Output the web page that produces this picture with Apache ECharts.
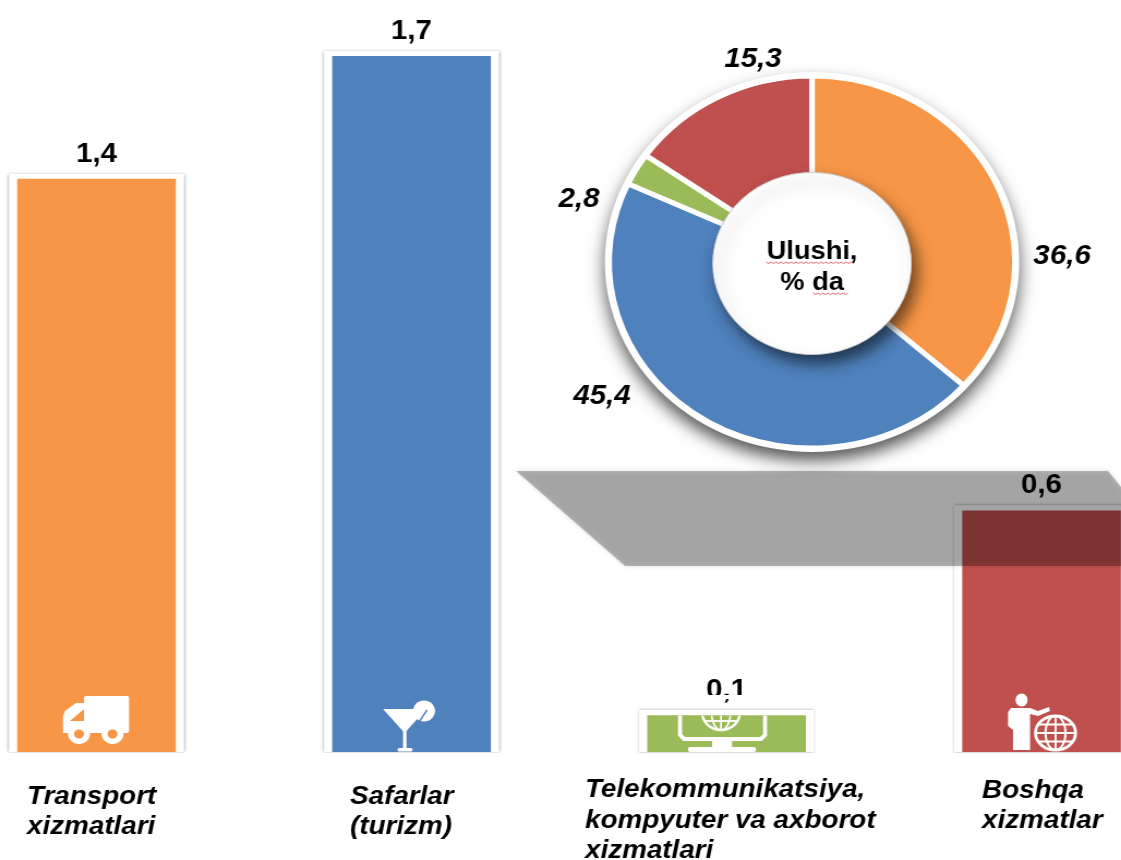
<!DOCTYPE html>
<html>
<head>
<meta charset="utf-8">
<script src="https://cdn.jsdelivr.net/npm/echarts@6/dist/echarts.min.js"></script>
<style>
html,body{margin:0;padding:0;background:#fff;overflow:hidden;width:1121px;height:860px}
#c{width:1028px;height:860px;transform-origin:0 0;transform:scaleX(1.0905)}
</style>
</head>
<body>
<div id="c"></div>
<script>
const categories = ['Transport\nxizmatlari', 'Safarlar\n(turizm)', 'Telekommunikatsiya,\nkompyuter va axborot\nxizmatlari', 'Boshqa\nxizmatlar'];
const barValues = [1.4, 1.7, 0.09, 0.59];
const barLabels = ['1,4', '1,7', '0,1', '0,6'];
const colors = ['#f79646', '#4f81bd', '#9bbb59', '#c0504d'];
const pieValues = [36.6, 45.4, 2.8, 15.3];
const pieLabels = ['36,6', '45,4', '2,8', '15,3'];

const S = 1121 / 1028;
const FONT = '"Liberation Sans", Arial, sans-serif';
const WHITE = '#fff';
const pieLabelPos = [[1062, 257], [602, 397], [579, 200], [753, 60]];
const catPos = [[27, 781.5], [350, 781.5], [585, 775], [982, 775.5]];
const frameMargin = 0.0125;

const chart = echarts.init(document.getElementById('c'));

const poly = (points, fill, z) => ({type: 'polygon', shape: {points}, style: {fill}, z, silent: true});
const rect = (x, y, width, height, fill, z, r) => ({type: 'rect', shape: {x, y, width, height, r: r || 0}, style: {fill}, z, silent: true});
const line = (x1, y1, x2, y2, w, z, stroke) => ({type: 'line', shape: {x1, y1, x2, y2}, style: {stroke: stroke || WHITE, lineWidth: w}, z, silent: true});
const ell = (cx, cy, rx, ry, fill, stroke, w, z) => ({type: 'ellipse', shape: {cx, cy, rx, ry}, style: {fill: fill || 'none', stroke: stroke || 'none', lineWidth: w || 0}, z, silent: true});
const pline = (points, w, z) => ({type: 'polyline', shape: {points}, style: {stroke: WHITE, lineWidth: w, fill: 'none'}, z, silent: true});
const ZI = 8;

function globe(cx, cy, rx, ry, w) {
  return [
    ell(cx, cy, rx, ry, null, WHITE, w, ZI),
    ell(cx, cy, rx * 0.5, ry, null, WHITE, w * 0.7, ZI),
    line(cx, cy - ry, cx, cy + ry, w * 0.7, ZI),
    line(cx - rx, cy, cx + rx, cy, w * 0.7, ZI),
    line(cx - rx * 0.87, cy - ry * 0.5, cx + rx * 0.87, cy - ry * 0.5, w * 0.7, ZI),
    line(cx - rx * 0.87, cy + ry * 0.5, cx + rx * 0.87, cy + ry * 0.5, w * 0.7, ZI)
  ];
}
// lower part of an ellipse, cut off at the height minY
function arcBelow(cx, cy, rx, ry, minY) {
  const a = Math.asin(Math.min(1, (minY - cy) / ry)), pts = [];
  for (let i = 0; i <= 24; i++) {
    const t = a + (Math.PI - 2 * a) * i / 24;
    pts.push([cx + rx * Math.cos(t), cy + ry * Math.sin(t)]);
  }
  return pts;
}
function squiggle(x1, x2, y) {
  const pts = [];
  for (let x = x1, i = 0; x <= x2; x += 2.5, i++) pts.push([x, y + (i % 2 ? 1.5 : 0)]);
  return {type: 'polyline', shape: {points: pts}, style: {stroke: '#e8636b', lineWidth: 1, fill: 'none'}, z: 8, silent: true};
}

const decor = [
  // soft shadow slab
  {type: 'polygon', shape: {points: [[516, 471], [1108, 471], [1125, 492], [1125, 566], [625, 566]]},
   style: {fill: 'rgba(0,0,0,0.26)', shadowBlur: 4, shadowColor: 'rgba(0,0,0,0.5)'}, z: 3, silent: true},
  // cut-off below the bar frames
  rect(0, 753, 1121, 14, WHITE, 2.5),
  // truck
  rect(84, 696, 45, 37, WHITE, ZI, 2),
  poly([[63, 716], [65, 711], [76, 703], [85, 703], [85, 733], [63, 733]], WHITE, ZI),
  poly([[70, 721], [84, 709], [84, 721]], colors[0], ZI + 1),
  ell(79, 734, 11, 10, WHITE, null, 0, ZI), ell(79, 734, 5, 4.5, colors[0], null, 0, ZI + 1),
  ell(112.5, 734, 11, 10, WHITE, null, 0, ZI), ell(112.5, 734, 5, 4.5, colors[0], null, 0, ZI + 1),
  // cocktail
  ell(424, 711, 11, 10.5, WHITE, null, 0, ZI),
  poly([[383, 709], [426, 709], [404.6, 733]], WHITE, ZI + 1),
  line(427, 710, 419, 722, 1.5, ZI + 2, colors[1]),
  rect(403, 730, 3.5, 20, WHITE, ZI),
  rect(397.5, 748, 15, 3.5, WHITE, ZI, 1.5),
  // monitor, its top cut off by the short bar
  pline(arcBelow(721, 712, 19, 18, 715.5), 2.5, ZI),
  pline(arcBelow(721, 712, 9.5, 18, 715.5), 1.8, ZI),
  line(721, 715.5, 721, 730, 1.8, ZI),
  line(705, 721, 737, 721, 1.8, ZI),
  pline([[680, 715.5], [680, 735], [684, 739], [761, 739], [765, 735], [765, 715.5]], 4, ZI),
  rect(712, 739, 20, 9, WHITE, ZI),
  rect(688, 747, 68, 5, WHITE, ZI, 2),
  // person and globe
  ell(1021.5, 700, 6, 6.5, WHITE, null, 0, ZI),
  poly([[1011, 708], [1030, 708], [1038, 711], [1049, 707], [1050, 711], [1038, 716], [1030, 714], [1030, 750], [1013, 750], [1013, 730], [1008, 726], [1008, 712]], WHITE, ZI),
  ell(1055.5, 733, 21, 18, colors[3], null, 0, ZI),
  ...globe(1055.5, 733, 20, 17, 3),
  // hole spell-check marks
  squiggle(766, 855, 262),
  squiggle(813, 850, 293),
  // notch over the 0,1 label
  rect(690, 695, 70, 4, WHITE, 9)
];

const catTexts = categories.map((t, i) => ({
  type: 'text', x: catPos[i][0] / S, y: catPos[i][1], z: 9, silent: true,
  style: {text: t, fontFamily: FONT, fontSize: 25.5, fontWeight: 'bold', fontStyle: 'italic', fill: '#000', lineHeight: 30.5, align: 'left', verticalAlign: 'top'}
}));

chart.setOption({
  animation: false,
  backgroundColor: '#fff',
  grid: {left: 96.5 / S, width: 945 / S, top: 15, height: 737},
  xAxis: [
    {type: 'category', data: categories, show: false, boundaryGap: false},
    {type: 'category', data: categories, show: false, boundaryGap: false, gridIndex: 0}
  ],
  yAxis: [
    {type: 'value', min: 0, max: 1.8, show: false},
    {type: 'value', min: 0, max: 1.8, show: false, gridIndex: 0}
  ],
  graphic: {elements: [
    {type: 'group', scaleX: 1 / S, children: decor},
    ...catTexts,
    {type: 'circle', shape: {cx: 812 / S, cy: 262, r: 190}, z: 4, silent: true,
     style: {fill: WHITE, shadowBlur: 16, shadowOffsetY: 9, shadowColor: 'rgba(0,0,0,0.65)'}},
    {type: 'circle', shape: {cx: 812 / S, cy: 263.5, r: 91}, z: 6, silent: true,
     style: {fill: WHITE, stroke: '#d0d0d0', lineWidth: 1, shadowBlur: 14, shadowOffsetX: 5, shadowOffsetY: 9, shadowColor: 'rgba(0,0,0,0.55)'}},
    {type: 'text', x: 812 / S, y: 237, z: 7, silent: true,
     style: {text: 'Ulushi,\n% da', fontFamily: FONT, fontSize: 25, fontWeight: 'bold', fill: '#000', lineHeight: 31, align: 'center', verticalAlign: 'top'}}
  ]},
  series: [
    {type: 'bar', name: 'frame', xAxisIndex: 1, yAxisIndex: 1, barWidth: 160.5, z: 1, silent: true, clip: false,
     data: barValues.map(v => v + frameMargin),
     itemStyle: {color: WHITE, shadowBlur: 3, shadowColor: 'rgba(0,0,0,0.4)'}},
    {type: 'bar', name: 'Xizmatlar', barWidth: 145.5, z: 2, clip: false,
     data: barValues.map((v, i) => ({value: v, itemStyle: {color: colors[i]}})),
     label: {show: true, position: 'top', distance: 11, fontFamily: FONT, fontSize: 27, fontWeight: 'bold', color: '#000',
       formatter: p => barLabels[p.dataIndex]}},
    {type: 'pie', name: 'Ulushi', z: 5, center: [812 / S, 262], radius: [70, 186], startAngle: 90, clockwise: true,
     data: pieValues.map((v, i) => ({value: v, name: pieLabels[i], itemStyle: {color: colors[i]}})),
     itemStyle: {borderColor: WHITE, borderWidth: 5},
     label: {show: true, position: 'outside', formatter: p => pieLabels[p.dataIndex], fontFamily: FONT, fontSize: 27, fontWeight: 'bold', fontStyle: 'italic', color: '#000'},
     labelLine: {show: false},
     labelLayout: p => ({x: pieLabelPos[p.dataIndex][0] / S, y: pieLabelPos[p.dataIndex][1], align: 'center', verticalAlign: 'middle'})}
  ]
});
</script>
</body>
</html>
